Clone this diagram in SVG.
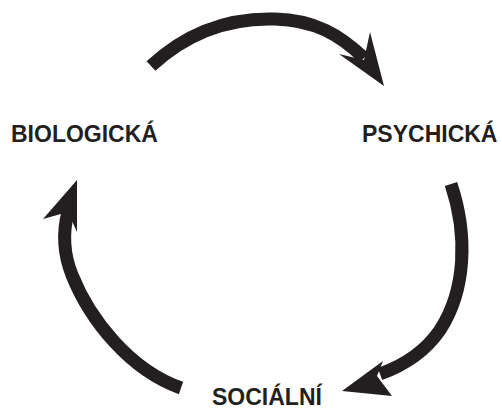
<svg xmlns="http://www.w3.org/2000/svg" width="502" height="415" viewBox="0 0 502 415">
<style>
.shaft{fill:none;stroke:#231f20;stroke-width:13}
.head{fill:#231f20}
.lbl{font-family:"Liberation Sans",Arial,sans-serif;font-weight:bold;font-size:23px;fill:#231f20}
</style>
<rect width="502" height="415" fill="#fff"/>
<g id="connectors">
<path class="shaft" d="M151,66 C195,25 240,18 275,19 C315,20 340,35 364,58"/>
<polygon class="head" points="384,86 370,32 364,60 339,54"/>
<path class="shaft" d="M451,184 C468,235 466,290 440,330 C425,352 405,365 380,374"/>
<polygon class="head" points="342,391 383,361 377,376 392,396"/>
<path class="shaft" d="M181,388 C130,370 90,320 72,275 C64,255 62,235 68,212"/>
<polygon class="head" points="77,180 43,219 68,212 77,232"/>
</g>
<g id="biologicka"><text class="lbl" x="11" y="142">BIOLOGICKÁ</text></g>
<g id="psychicka"><text class="lbl" x="362" y="142">PSYCHICKÁ</text></g>
<g id="socialni"><text class="lbl" x="212" y="405">SOCIÁLNÍ</text></g>
</svg>
